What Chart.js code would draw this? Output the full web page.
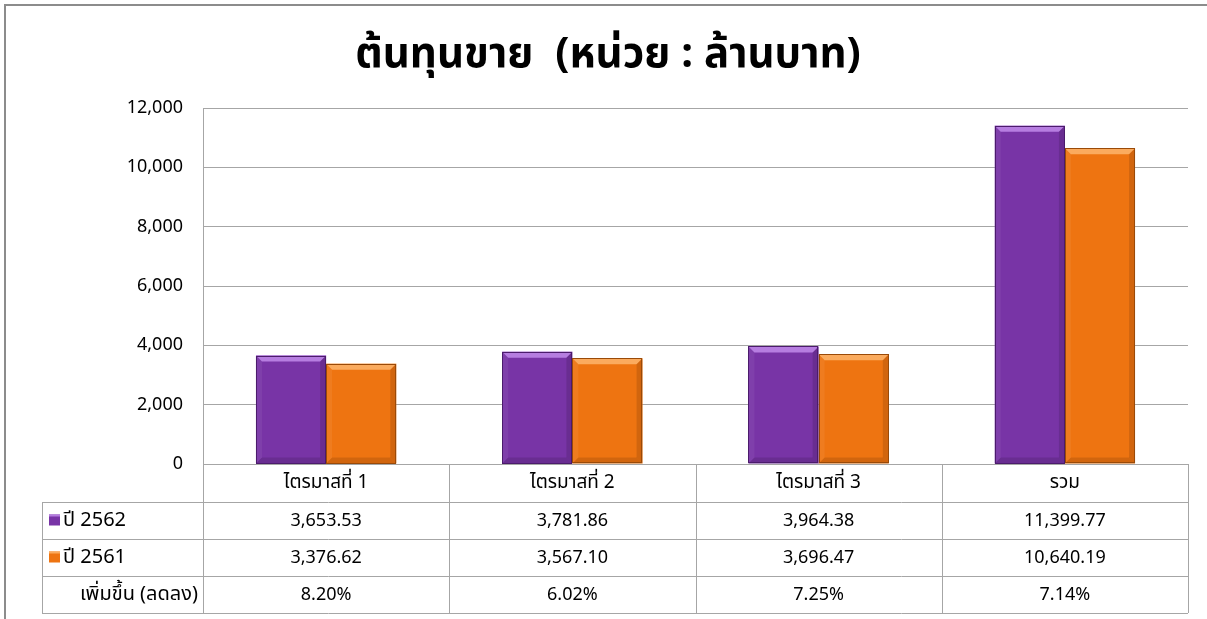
<!DOCTYPE html>
<html><head><meta charset="utf-8">
<script src="https://cdn.jsdelivr.net/npm/chart.js@4/dist/chart.umd.min.js"></script>
<style>
html,body{margin:0;padding:0;background:#fff;}
#wrap{position:relative;width:1207px;height:619px;}
canvas{display:block;}
</style></head>
<body><div id="wrap"><canvas id="c" width="1207" height="619"></canvas></div>
<script>
const titleText = 'ต้นทุนขาย  (หน่วย : ล้านบาท)';
const categories = ['ไตรมาสที่ 1', 'ไตรมาสที่ 2', 'ไตรมาสที่ 3', 'รวม'];
const seriesNames = ['ปี 2562', 'ปี 2561'];
const values2562 = [3653.53, 3781.86, 3964.38, 11399.77];
const values2561 = [3376.62, 3567.10, 3696.47, 10640.19];
const changeLabel = 'เพิ่มขึ้น (ลดลง)';
const changePct = [8.20, 6.02, 7.25, 7.14];
const yTicks = [0, 2000, 4000, 6000, 8000, 10000, 12000];

const FONT = "'Noto Sans', 'Noto Sans Thai', 'Tahoma', 'DejaVu Sans', sans-serif";
const colors = {
  fill: ['#7834a6', '#ee7411'],
  light: ['#b67de0', '#fbab5e'],
  dark: ['#4b1b6c', '#9a4a08']
};
const fmt2 = v => v.toLocaleString('en-US', {minimumFractionDigits: 2, maximumFractionDigits: 2});

const framePlugin = {
  id: 'frame',
  beforeDraw(chart) {
    const ctx = chart.ctx;
    ctx.save();
    ctx.fillStyle = '#fff';
    ctx.fillRect(0, 0, chart.width, chart.height);
    ctx.strokeStyle = '#8c8c8c';
    ctx.lineWidth = 2;
    ctx.beginPath();
    ctx.moveTo(5, chart.height); ctx.lineTo(5, 5); ctx.lineTo(chart.width, 5);
    ctx.stroke();
    // title
    ctx.fillStyle = '#000';
    ctx.font = "bold 42px " + FONT;
    ctx.textAlign = 'center';
    ctx.textBaseline = 'middle';
    ctx.fillText(titleText, 608, 55);
    ctx.restore();
  }
};

const bevelPlugin = {
  id: 'bevel',
  afterDatasetsDraw(chart) {
    const ctx = chart.ctx;
    ctx.save();
    chart.data.datasets.forEach((ds, di) => {
      const meta = chart.getDatasetMeta(di);
      meta.data.forEach(bar => {
        const p = bar.getProps(['x', 'y', 'base', 'width'], true);
        const l = p.x - p.width / 2, r = p.x + p.width / 2, t = p.y, b = p.base;
        const e = 6;
        ctx.fillStyle = colors.light[di];
        ctx.beginPath();
        ctx.moveTo(l, t); ctx.lineTo(r, t); ctx.lineTo(r - e, t + e); ctx.lineTo(l + e, t + e); ctx.closePath();
        ctx.fill();
        ctx.fillStyle = 'rgba(0,0,0,0.12)';
        ctx.beginPath();
        ctx.moveTo(r, t); ctx.lineTo(r, b); ctx.lineTo(r - e, b - e); ctx.lineTo(r - e, t + e); ctx.closePath();
        ctx.fill();
        ctx.beginPath();
        ctx.moveTo(l, b); ctx.lineTo(r, b); ctx.lineTo(r - e, b - e); ctx.lineTo(l + e, b - e); ctx.closePath();
        ctx.fill();
        ctx.fillStyle = 'rgba(255,255,255,0.06)';
        ctx.beginPath();
        ctx.moveTo(l, t); ctx.lineTo(l, b); ctx.lineTo(l + e, b - e); ctx.lineTo(l + e, t + e); ctx.closePath();
        ctx.fill();
        ctx.strokeStyle = colors.dark[di];
        ctx.lineWidth = 1;
        ctx.strokeRect(Math.round(l) + 0.5, Math.round(t) + 0.5, Math.round(r - l) - 1, Math.round(b - t) - 1);
      });
    });
    ctx.restore();
  }
};

const tablePlugin = {
  id: 'dataTable',
  afterDraw(chart) {
    const ctx = chart.ctx;
    const xs = chart.scales.x;
    const area = chart.chartArea;
    const n = categories.length;
    const colW = (area.right - area.left) / n;
    const rowH = 37;
    const top = area.bottom;
    const rows = [top, top + rowH + 1, top + 2 * rowH + 1, top + 3 * rowH + 1, top + 4 * rowH + 1];
    const tableLeft = 42;
    ctx.save();
    ctx.strokeStyle = '#a6a6a6';
    ctx.lineWidth = 1;
    const hline = (x1, x2, y) => { ctx.beginPath(); ctx.moveTo(x1, Math.round(y) + 0.5); ctx.lineTo(x2, Math.round(y) + 0.5); ctx.stroke(); };
    const vline = (x, y1, y2) => { ctx.beginPath(); ctx.moveTo(Math.round(x) + 0.5, y1); ctx.lineTo(Math.round(x) + 0.5, y2); ctx.stroke(); };
    hline(area.left, area.right, rows[0]);
    for (let i = 1; i < rows.length; i++) hline(tableLeft, area.right, rows[i]);
    vline(tableLeft, rows[1], rows[4]);
    for (let i = 0; i <= n; i++) vline(area.left + i * colW, rows[0], rows[4]);

    ctx.fillStyle = '#000';
    ctx.textAlign = 'center';
    ctx.textBaseline = 'middle';
    ctx.font = "19px " + FONT;
    categories.forEach((c, i) => ctx.fillText(c, xs.getPixelForValue(i), (rows[0] + rows[1]) / 2));
    ctx.font = "18px " + FONT;
    const rowVals = [values2562.map(fmt2), values2561.map(fmt2), changePct.map(v => v.toFixed(2) + '%')];
    rowVals.forEach((vals, r) => {
      const yc = (rows[r + 1] + rows[r + 2]) / 2;
      vals.forEach((v, i) => ctx.fillText(v, xs.getPixelForValue(i), yc));
    });
    ctx.textAlign = 'left';
    ctx.font = "20px " + FONT;
    seriesNames.forEach((s, r) => {
      const yc = (rows[r + 1] + rows[r + 2]) / 2;
      ctx.fillStyle = colors.fill[r];
      ctx.fillRect(49, yc - 6, 11, 11);
      ctx.fillStyle = colors.light[r];
      ctx.fillRect(49, yc - 6, 11, 2);
      ctx.fillStyle = '#000';
      ctx.fillText(s, 63, yc);
    });
    ctx.textAlign = 'right';
    ctx.fillText(changeLabel, 198, (rows[3] + rows[4]) / 2);
    ctx.restore();
  }
};

new Chart(document.getElementById('c'), {
  type: 'bar',
  data: {
    labels: categories,
    datasets: [
      {label: seriesNames[0], data: values2562, backgroundColor: colors.fill[0], borderWidth: 0},
      {label: seriesNames[1], data: values2561, backgroundColor: colors.fill[1], borderWidth: 0}
    ]
  },
  options: {
    responsive: false,
    animation: false,
    layout: {padding: {left: 0, right: 19, top: 108, bottom: 155}},
    plugins: {legend: {display: false}, title: {display: false}, tooltip: {enabled: false}},
    datasets: {bar: {categoryPercentage: 0.57, barPercentage: 1.0}},
    scales: {
      x: {display: false},
      y: {
        min: 0, max: 12000,
        afterFit(scale) { scale.width = 203; },
        afterBuildTicks(scale) { scale.ticks = yTicks.map(v => ({value: v})); },
        grid: {color: '#a6a6a6', drawTicks: false},
        border: {display: true, color: '#a6a6a6'},
        ticks: {
          padding: 20,
          color: '#000',
          font: {family: FONT, size: 18},
          callback: v => v.toLocaleString('en-US')
        }
      }
    }
  },
  plugins: [framePlugin, bevelPlugin, tablePlugin]
});
</script>
</body></html>
